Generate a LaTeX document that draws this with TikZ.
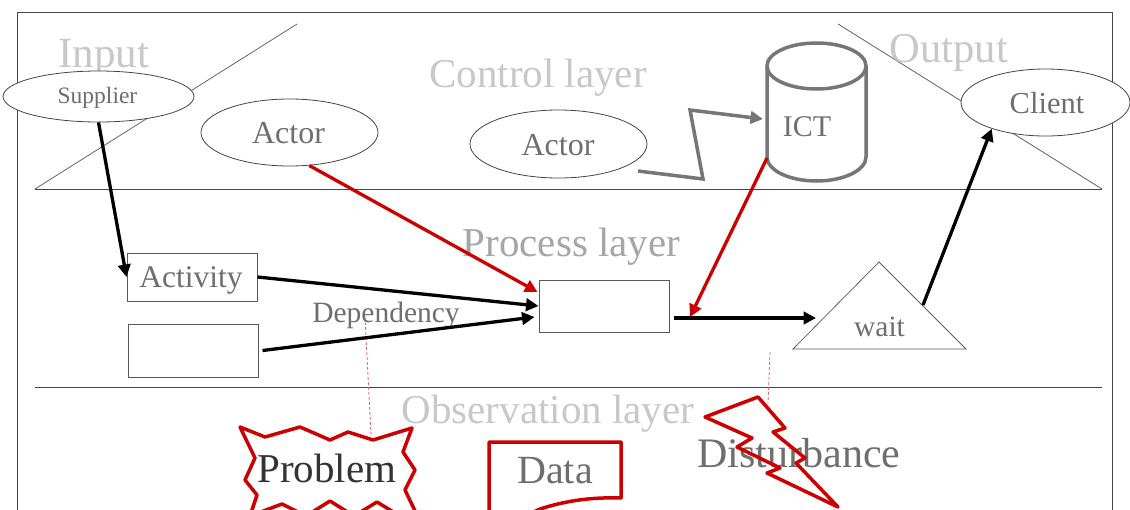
\documentclass[tikz,border=0pt]{standalone}
\usepackage{fontspec}
\setmainfont{Liberation Serif}
\usetikzlibrary{arrows.meta,calc,shapes.geometric}
\definecolor{titlegray}{HTML}{C8C8C8}
\definecolor{procgray}{HTML}{A6A6A6}
\definecolor{txtgray}{HTML}{6E6E6E}
\definecolor{darktxt}{HTML}{333333}
\definecolor{linegray}{HTML}{454545}
\definecolor{diaggray}{HTML}{5E5E5E}
\definecolor{strokegray}{HTML}{767676}
\definecolor{myred}{HTML}{CC0000}
\definecolor{dashred}{HTML}{E06666}
\newcommand\fsz[1]{\fontsize{#1}{#1}\selectfont}
\begin{document}
\begin{tikzpicture}[x=1pt,y=-1pt,
  frameline/.style={draw=linegray,line width=1pt},
  diagline/.style={draw=diaggray,line width=0.75pt},
  ell/.style={ellipse,draw=linegray,line width=0.8pt,fill=white,inner sep=0pt},
  boxnode/.style={rectangle,draw=linegray!90,line width=1pt,fill=white,inner sep=0pt},
  lbl/.style={anchor=base,inner sep=0pt,text=txtgray},
  ttl/.style={anchor=base,inner sep=0pt,text=titlegray},
  flow/.style={draw=black,line width=3.3pt,-{Triangle[length=12.5pt,width=12.5pt]}},
  redflow/.style={flow,draw=myred},
  grayflow/.style={flow,draw=strokegray,line width=3.5pt,line join=miter},
  cyl/.style={draw=strokegray,line width=3.5pt},
  redshape/.style={draw=myred,line width=3.5pt,line join=round},
  reddash/.style={draw=dashred,line width=0.8pt,dash pattern=on 3pt off 2pt}]
\useasboundingbox (0,0) rectangle (1130,509);
\begin{scope}
\clip (0,0) rectangle (1130,509);
\fill[white] (0,0) rectangle (1130,509);
% frame and layer lines
\draw[frameline] (17,520) -- (17,12) -- (1112,12) -- (1112,520);
\draw[frameline] (35,189) -- (1102,189);
\draw[frameline] (35,387) -- (1102,387);
\draw[diagline] (35,189) -- (297,24);
\draw[diagline] (838,24) -- (1102,189);
% layer titles
\node[ttl,font={\fsz{43}}] (tinput) at (104,67) {Input};
\node[ttl,font={\fsz{41}}] (tcontrol) at (538,87) {Control layer};
\node[ttl,font={\fsz{42.5}}] (toutput) at (949,62) {Output};
\node[ttl,text=procgray,font={\fsz{41}}] (tprocess) at (571.5,256) {Process layer};
\node[ttl,font={\fsz{41}}] (tobs) at (548,423) {Observation layer};
% control layer nodes
\node[ell,minimum width=191pt,minimum height=51pt] (sup) at (98.5,96.5) {};
\node[lbl,font={\fsz{23.5}}] (tsup) at (97.5,103) {Supplier};
\node[ell,minimum width=177pt,minimum height=67pt] (actor1) at (289.5,132.5) {};
\node[lbl,font={\fsz{32}}] (tactor1) at (288.5,143) {Actor};
\node[ell,minimum width=177pt,minimum height=68pt] (actor2) at (558.5,144) {};
\node[lbl,font={\fsz{32}}] (tactor2) at (558,155) {Actor};
\node[ell,minimum width=169pt,minimum height=67pt] (client) at (1045.5,102.5) {};
\node[lbl,font={\fsz{30.5}}] (tclient) at (1047,113) {Client};
% ICT cylinder
\fill[white] (767,66) -- (767,157) arc[start angle=180,end angle=0,x radius=49.5,y radius=24] -- (866,66) -- cycle;
\draw[cyl] (767,66) -- (767,157) arc[start angle=180,end angle=0,x radius=49.5,y radius=24] -- (866,66);
\draw[cyl,fill=white] (816.5,66) ellipse[x radius=49.5,y radius=23];
\node[lbl,font={\fsz{30}}] (tict) at (807,136) {ICT};
\coordinate (ictleft) at (763,119);
\coordinate (ictbl) at (767,158);
% process layer nodes
\node[boxnode,minimum width=130pt,minimum height=48pt] (act) at (192,277) {};
\node[lbl,font={\fsz{31.5}}] (tact) at (191,287) {Activity};
\node[boxnode,minimum width=130pt,minimum height=53pt] (empty) at (193,350.5) {};
\node[boxnode,minimum width=130pt,minimum height=52pt] (cbox) at (604,306) {};
\node[lbl,font={\fsz{29.5}}] (tdep) at (386,322) {Dependency};
\draw[line width=0.75pt,draw=diaggray,fill=white] (793,349) -- (879,262) -- (966,349) -- cycle;
\node[lbl,font={\fsz{29.5}}] (twait) at (879.5,336) {wait};
\coordinate (wleft) at (816,318);
\coordinate (wright) at (923,305);
\coordinate (mid) at (690,317);
% observation layer shapes
\draw[redshape,fill=white] (240,427) -- (265,437) -- (300,427) -- (330,440) -- (348,432) -- (373,440) -- (412,428)
  -- (403,452) -- (415,470) -- (405,490) -- (417,515) -- (400,516) -- (377,502) -- (354,516) -- (330,501)
  -- (306,516) -- (282,504) -- (250,516) -- (257,495) -- (245,480) -- (255,458) -- cycle;
\node[anchor=base,inner sep=0pt,text=darktxt,font={\fsz{41}}] (tprob) at (327,482) {Problem};
\draw[redshape,fill=white] (489,520) -- (489,442) -- (621,442) -- (621,498)
  .. controls (590,497) and (565,501) .. (540,509) -- (525,516);
\node[lbl,font={\fsz{40}}] (tdata) at (555,483) {Data};
\node[lbl,font={\fsz{42}}] (tdist) at (799,467) {Disturbance};
\draw[redshape] (705,417) -- (758,397) -- (785,428) -- (773,432) -- (805,458) -- (796,463) -- (838,507)
  -- (767,473) -- (780,468) -- (737,447) -- (752,438) -- cycle;
% dashed red links
\coordinate (d1a) at (365,317);
\coordinate (d1b) at (371,435);
\coordinate (d2a) at (770,352);
\coordinate (d2b) at (768,403);
\draw[reddash] (d1a) -- (d1b);
\draw[reddash] (d2a) -- (d2b);
% connectors
\coordinate (zstart) at (638,171);
\draw[grayflow] (zstart) -- (703,179) -- (690,110) -- (ictleft);
\draw[flow] (sup.south) -- (act.west);
\draw[flow] (act.east) -- (cbox.west);
\draw[flow] ($(empty.east)+(4,0)$) -- ($(cbox.west)+(-4,11)$);
\draw[redflow] (actor1.-59) -- ($(cbox.west)+(-1,-14)$);
\draw[redflow] (ictbl) -- (mid);
\draw[flow] ($(cbox.east)+(4,12)$) -- (wleft);
\draw[flow] (wright) -- (client.206);
\end{scope}
\end{tikzpicture}
\end{document}
